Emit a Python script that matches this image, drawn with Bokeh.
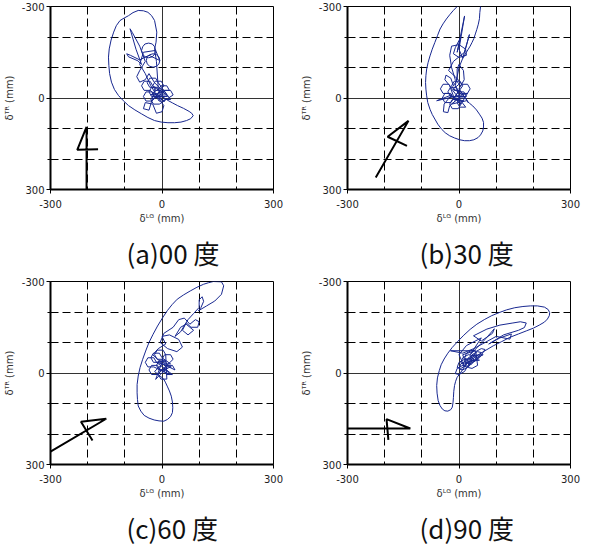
from bokeh.plotting import figure
from bokeh.models import Range1d, FixedTicker, Title
from bokeh.layouts import column, row
from bokeh.embed import file_html
from bokeh.resources import INLINE

# ---------------- data (mm) ----------------
titles = ["(a)00 度", "(b)30 度", "(c)60 度", "(d)90 度"]
x_label = "δᴸᴳ (mm)"
y_label = "δᵀᴿ (mm)"
major_ticks = [-300, 0, 300]
minor_ticks = [-200, -100, 100, 200]
tick_text = {-300: "-300", 0: "0", 300: "300"}

# (a) 0 deg orbit
lg_a = [-5, -12, -28, -35, -28, -12, 15, 8, -8, -15, -8, 8, -20, -27, -43, -50, -43, -27,
        5, -2, -18, -25, -18, -2, 20, 13, -3, -10, -3, 13, -25, -32, -48, -55, -48, -32,
        0, -7, -23, -30, -23, -7, 30, 23, 7, 0, 7, 23, -10, -17, -33, -40, -33, -17,
        -35, -50, -45, -25, -15, 0, 5, -10,
        -30, -45, -60, -50,
        -17, -20, -26, -36, -46, -52, -55, -52, -46, -36, -26, -20, -17,
        -6, -8, -15, -24, -33, -40, -42, -40, -33, -24, -15, -8, -6,
        -35, -60, -85, -95, -90, -65, -55,
        -70, -86, -80, -60, -45,
        -60, -68, -60, -45, -35,
        -20, 5, -30, -10,
        -15, -20, -16, -14, -20, -28, -38, -50, -64, -78, -90, -102, -113, -123, -130, -137, -142,
        -144, -143, -141, -136, -128, -117, -104, -90, -73, -55, -38, -20, -2, 16, 34, 51, 66, 77,
        84, 80, 73, 58, 42, 28, 16, -5, -25, 0]
tr_a = [-20, -35, -35, -20, -5, -5, -5, -20, -20, -5, 10, 10, -5, -20, -20, -5, 10, 10,
        -40, -55, -55, -40, -25, -25, -25, -40, -40, -25, -10, -10, -40, -55, -55, -40, -25, -25,
        5, -10, -10, 5, 20, 20, -10, -25, -25, -10, 5, 5, -50, -65, -65, -50, -35, -35,
        40, 35, 15, 20, 50, 45, 25, 0,
        -40, -80, -110, -150,
        -156, -144, -135, -132, -135, -144, -156, -168, -177, -180, -177, -168, -156,
        -123, -112, -104, -101, -104, -112, -123, -134, -142, -145, -142, -134, -123,
        -140, -125, -140, -145, -135, -122, -110,
        -160, -227, -215, -170, -120,
        -90, -70, -52, -60, -80,
        -50, -20, -10, -30,
        -120, -160, -183, -216, -254, -270, -281, -286, -287, -280, -270, -262, -254, -237, -216, -190, -161,
        -134, -107, -80, -52, -28, -8, 9, 25, 39, 52, 64, 74, 79, 81, 81, 79, 74, 68,
        58, 50, 44, 34, 25, 16, 8, -10, 5, -15]

# (b) 30 deg orbit
lg_b = [0, -7, -23, -30, -23, -7, 20, 13, -3, -10, -3, 13, -15, -22, -38, -45, -38, -22,
        10, 3, -13, -20, -13, 3, 25, 18, 2, -5, 2, 18, -20, -27, -43, -50, -43, -27,
        5, -2, -18, -25, -18, -2, 30, 23, 7, 0, 7, 23, -60, -20,
        -40, -42, -30, -25, -10,
        -25, -38, -35, -22, -15,
        -5, -5, 0, 12, 14, 5, -10,
        -20, -25, -20, 0, 18, 20, 0, -15, -10, 5, -5, 15, 0,
        10, 28, 15, -15, -28, -10, 5, -15, 10, -20,
        20, 28, 37, 47, 55, 62, 66, 66, 64, 58, 51, 40, 28, 15, 2, -12, -25, -37, -47, -57, -65,
        -72, -78, -84, -87, -89, -90, -89, -87, -83, -78, -72, -65, -58, -51, -43, -34, -25, -16, -5,
        5, 60, 58, 56, 55, 52, 48, 44, 40, 35, 30, 25, 20, 10, 0, -10, 0]
tr_b = [-20, -35, -35, -20, -5, -5, -5, -20, -20, -5, 10, 10, 0, -15, -15, 0, 15, 15,
        -40, -55, -55, -40, -25, -25, 15, 0, 0, 15, 30, 30, -30, -45, -45, -30, -15, -15,
        20, 5, 5, 20, 35, 35, -30, -45, -45, -30, -15, -15, 9, -10,
        20, 45, 48, 25, 10,
        -40, -60, -75, -65, -40,
        -60, -95, -110, -90, -60, -40, -60,
        -100, -140, -170, -175, -160, -140, -133, -145, -165, -200, -150, -269, -160,
        -130, -208, -150, -120, -90, -70, -50, -30, -10, 20,
        9, 17, 26, 39, 53, 66, 80, 95, 108, 121, 130, 137, 140, 140, 137, 131, 124, 114, 102, 86, 69,
        54, 37, 15, -7, -29, -51, -73, -95, -117, -138, -160, -182, -204, -226, -243, -259, -273, -286, -300,
        -320, -320, -300, -280, -260, -242, -225, -210, -195, -182, -170, -160, -150, -130, -100, -40, -10]

# (c) 60 deg orbit
lg_c = [15, 8, -8, -15, -8, 8, -5, -12, -28, -35, -28, -12, 30, 23, 7, 0, 7, 23,
        0, -7, -23, -30, -23, -7, 35, 28, 12, 5, 12, 28, -15, -22, -38, -45, -38, -22,
        20, 13, -3, -10, -3, 13, 10, 3, -13, -20, -13, 3, -17, -5, 15,
        -25, -10, 10, 0, 20, 45, 55, 40, 15, -5, 5,
        30, 45, 60, 75, 90, 100, 96, 78, 65, 55, 70, 85, 65, 50, 35,
        50, 70, 85, 100, 100, 108, 112, 105, 98, 120, 142, 160, 166, 160, 138, 125, 112, 94, 76, 58, 41, 27, 14,
        1, -12, -24, -35, -44, -52, -59, -64, -67, -67, -66, -64, -57, -48, -35, -21, -8, 5, 15, 23,
        28, 29, 28, 25, 20, 14, 9, 4,
        -20, 10, -15, 25, 0]
tr_c = [-25, -40, -40, -25, -10, -10, -10, -25, -25, -10, 5, 5, -45, -60, -60, -45, -30, -30,
        -50, -65, -65, -50, -35, -35, -10, -25, -25, -10, 5, 5, -35, -50, -50, -35, -20, -20,
        5, -10, -10, 5, 20, 20, -60, -75, -75, -60, -45, -45, 21, 5, -15,
        -60, -80, -95, -120, -125, -110, -85, -70, -80, -100, -130,
        -150, -175, -180, -160, -175, -168, -150, -150, -165, -140, -125, -140, -160, -150, -120,
        -135, -175, -195, -215, -240, -250, -235, -215, -204, -220, -236, -258, -286, -299, -300, -296, -291, -281, -269, -256, -242, -224, -204,
        -180, -154, -127, -100, -72, -45, -18, 10, 38, 65, 87, 108, 125, 139, 148, 154, 157, 158, 152, 143,
        130, 114, 95, 76, 59, 43, 30, 19,
        -5, -40, -35, -20, -10]

# (d) 90 deg orbit
lg_d = [20, 10, -5, -10, 0, 15, 30, 20, 5, 0, 10, 25, 40, 30, 15, 10, 20, 35,
        50, 40, 25, 20, 30, 45, 60, 50, 35, 30, 40, 55, 70, 60, 45, 40, 50, 65,
        35, 25, 10, 5, 15, 30, 55, 45, 30, 25, 35, 50, 45, 35, 20, 15, 25, 40,
        25, 15, 0, -5, 5, 20,
        10, 44, -23, 10, 40, 70, 100, 137, 141, 110, 80, 120, 160, 176, 181, 165, 145, 110, 75, 39, 60, 90, 95, 70, 50, 30,
        60, 20, 0, 13, 30, 48, 70, 92, 115, 137, 160, 181, 200, 216, 230, 238, 243,
        244, 240, 230, 211, 192, 172, 150, 128, 108, 88, 68, 48, 30, 13, -3, -18, -30, -40, -48, -53, -58, -60,
        -59, -56, -51, -45, -38, -30, -22, -18, -16, -15, -14, -12, -9, -5, 2, 20, 40]
tr_d = [-22, -25, -15, 2, 5, -5, -37, -40, -30, -13, -10, -20, -47, -50, -40, -23, -20, -30,
        -57, -60, -50, -33, -30, -40, -67, -70, -60, -43, -40, -50, -77, -80, -70, -53, -50, -60,
        -57, -60, -50, -33, -30, -40, -42, -45, -35, -18, -15, -25, -72, -75, -65, -48, -45, -55,
        -42, -45, -35, -18, -15, -25,
        -60, -73, -73, -65, -80, -100, -120, -111, -128, -115, -95, -125, -140, -149, -164, -168, -164, -157, -144, -122, -105, -130, -145, -110, -85, -60,
        -115, -90, -60, -24, -41, -57, -73, -89, -103, -117, -128, -138, -147, -157, -167, -177, -188,
        -198, -208, -216, -220, -220, -218, -214, -207, -198, -188, -175, -160, -143, -124, -104, -84, -65, -46, -27, -8, 16, 41,
        66, 91, 107, 118, 124, 125, 120, 112, 96, 80, 60, 41, 27, 14, 3, -30, -45]

# wind-direction markers (black arrows)
arrow_lg = [[-203, -203, -228, -172], [-224, -136, -192, -140], [-300, -150, -218, -187], [-300, -131, -195, -190]]
arrow_tr = [[300, 95, 170, 168], [261, 75, 127, 157], [258, 150, 160, 221], [182, 182, 151, 219]]

orbits_lg = [lg_a, lg_b, lg_c, lg_d]
orbits_tr = [tr_a, tr_b, tr_c, tr_d]
for _x, _y in zip(orbits_lg, orbits_tr):
    n = min(len(_x), len(_y))
    del _x[n:]
    del _y[n:]

ORBIT_COLOR = "#182890"
FONT = "DejaVu Sans"


def make_panel(i, right, title_offset):
    p = figure(frame_width=223, frame_height=183, output_backend="svg", toolbar_location=None,
               x_range=Range1d(-300, 300), y_range=Range1d(300, -300),
               min_border_left=46, min_border_right=right, min_border_top=6,
               min_border_bottom=82)
    p.background_fill_color = "white"
    p.border_fill_color = "white"
    p.outline_line_color = "black"
    p.outline_line_width = 1

    for ax in (p.xaxis[0], p.yaxis[0]):
        ax.ticker = FixedTicker(ticks=major_ticks, minor_ticks=minor_ticks)
        ax.major_label_overrides = tick_text
        ax.axis_line_width = 2
        ax.axis_line_color = "black"
        ax.major_tick_out = 4
        ax.major_tick_in = 0
        ax.major_tick_line_color = "black"
        ax.major_label_text_font = FONT
        ax.major_label_text_font_size = "10px"
        ax.major_label_text_color = "#222222"
        ax.axis_label_text_font = FONT
        ax.axis_label_text_font_size = "10px"
        ax.axis_label_text_font_style = "normal"
        ax.axis_label_text_color = "#333333"
        ax.axis_label_standoff = 4
        ax.major_label_standoff = 2
    p.xaxis.major_label_standoff = 6
    p.xaxis.axis_label_standoff = 2
    p.xaxis.minor_tick_line_color = None
    p.yaxis.minor_tick_out = 3
    p.yaxis.minor_tick_in = 0
    p.yaxis.minor_tick_line_color = "black"
    p.yaxis.major_label_orientation = "horizontal"
    p.xaxis.axis_label = x_label
    p.yaxis.axis_label = y_label

    for g in (p.xgrid[0], p.ygrid[0]):
        g.grid_line_color = "#333333"
        g.grid_line_width = 1
        g.minor_grid_line_color = "black"
        g.minor_grid_line_dash = "8 4"
        g.minor_grid_line_width = 1

    p.line(orbits_lg[i], orbits_tr[i], line_color=ORBIT_COLOR, line_width=1)
    p.line(arrow_lg[i], arrow_tr[i], line_color="black", line_width=2)

    p.add_layout(Title(text=titles[i], align="left", offset=title_offset,
                       text_font="Noto Sans CJK JP",
                       text_font_size="26px", text_font_style="normal",
                       text_color="#111111", standoff=10), "below")
    return p


p1 = make_panel(0, 24, 76)
p2 = make_panel(1, 13, 72)
p3 = make_panel(2, 24, 76)
p4 = make_panel(3, 13, 72)

layout = column(row(p1, p2), row(p3, p4))
open("out.html", "w").write(file_html(layout, INLINE))
